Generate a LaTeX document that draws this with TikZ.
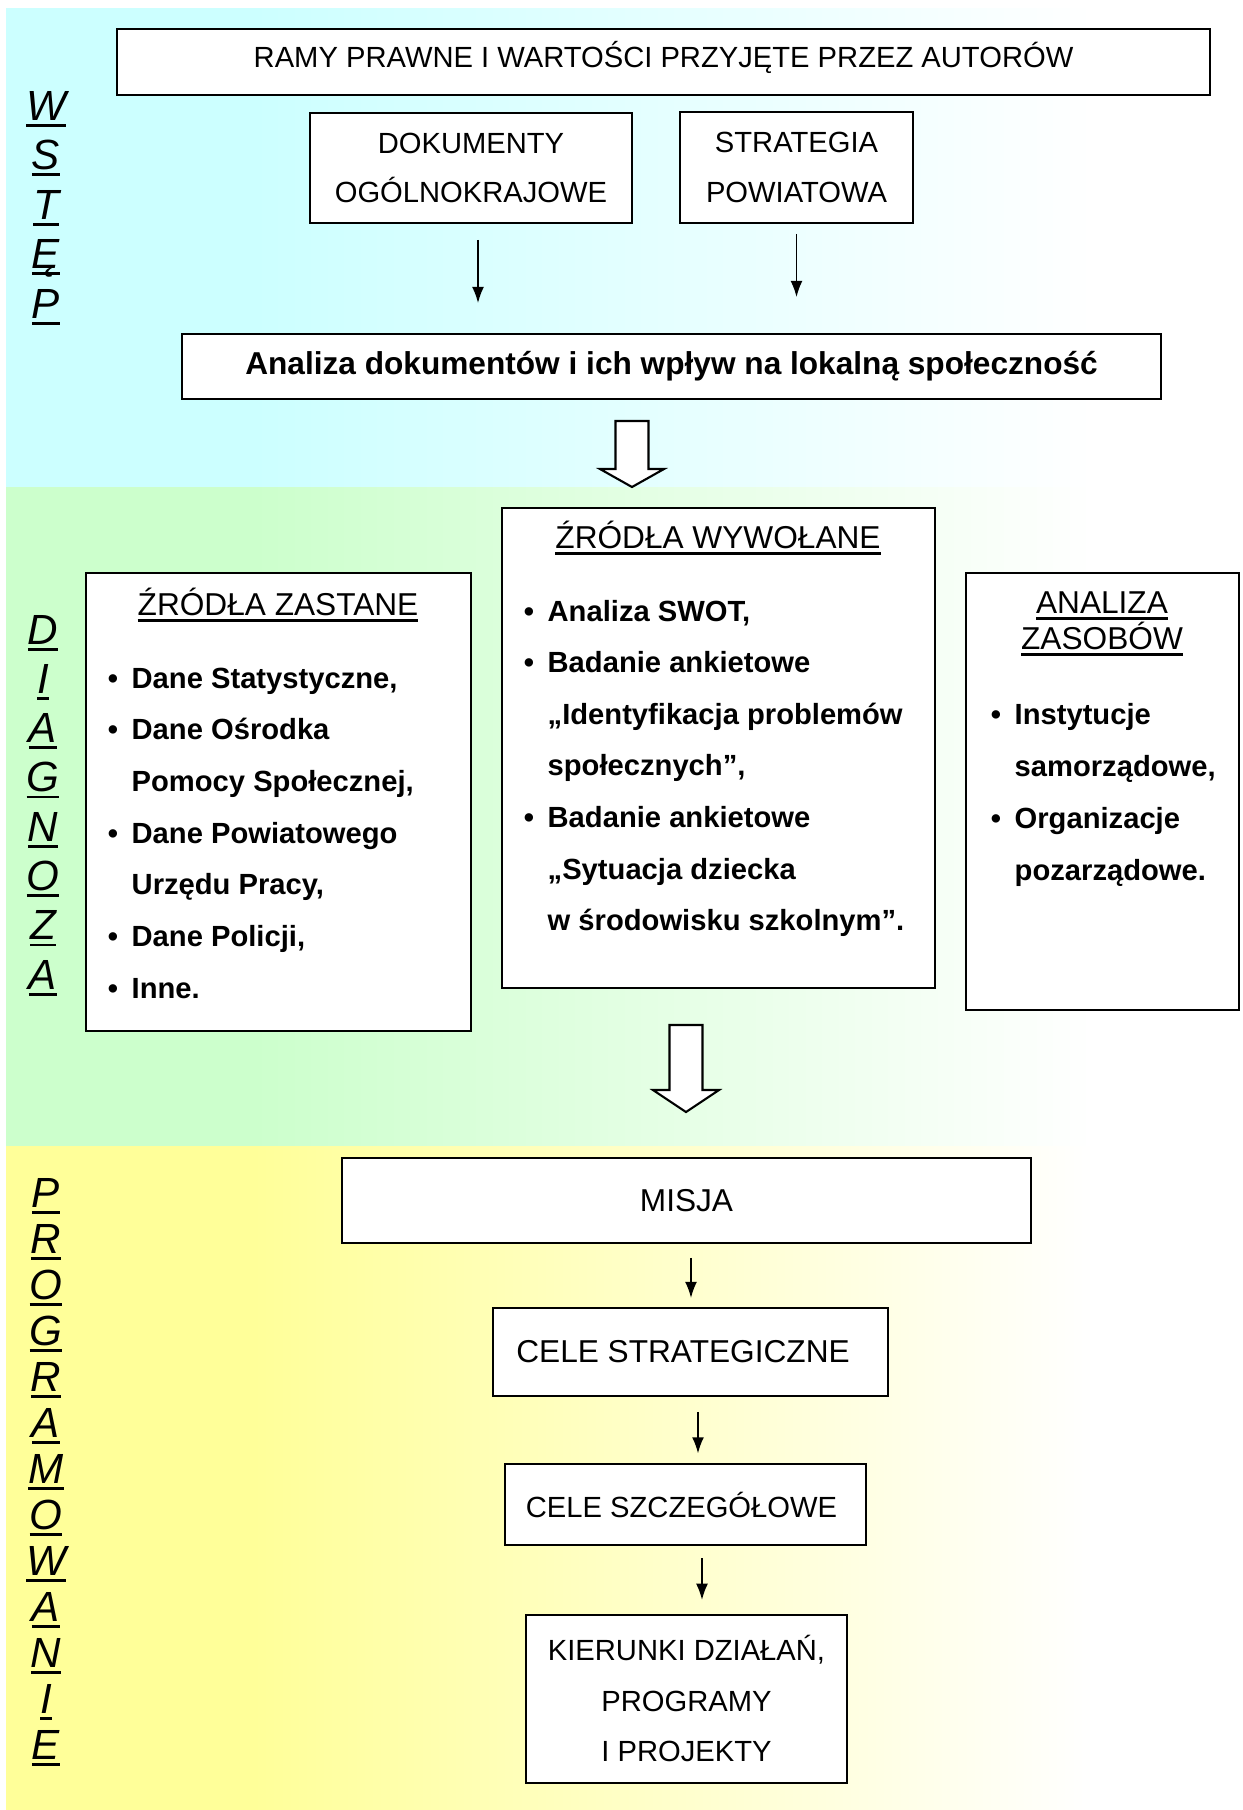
\documentclass[tikz,border=0pt]{standalone}
\usepackage{fontspec}
\setmainfont{Liberation Sans}
\usetikzlibrary{positioning,arrows.meta}
\definecolor{wstep}{HTML}{CCFFFF}
\definecolor{diag}{HTML}{CCFFCC}
\definecolor{prog}{HTML}{FFFF99}
\pgfdeclarehorizontalshading{wstepfade}{100bp}{color(0bp)=(wstep); color(35bp)=(wstep); color(69bp)=(white); color(100bp)=(white)}
\pgfdeclarehorizontalshading{diagfade}{100bp}{color(0bp)=(diag); color(35bp)=(diag); color(69bp)=(white); color(100bp)=(white)}
\pgfdeclarehorizontalshading{progfade}{100bp}{color(0bp)=(prog); color(35bp)=(prog); color(69bp)=(white); color(100bp)=(white)}
\newcommand{\pkt}{\llap{\textbullet\hspace{3.9pt}}}
\newcommand{\podkr}[1]{\setbox0\hbox{#1}\rlap{\rule[-1.85pt]{\wd0}{0.75pt}}\box0}

\begin{document}
\begin{tikzpicture}[x=0.1mm,y=-0.1mm]
	\tikzstyle{box}=[rectangle, draw=black, fill=white, line width=0.55pt, inner sep=0pt, align=center, font=\fontsize{8.3}{14}\selectfont]
	\tikzstyle{bigbox}=[box, font=\fontsize{9}{14}\selectfont]
	\tikzstyle{connect}=[-{Latex[length=4.6pt,width=3.4pt]}, line width=0.45pt]
	\tikzstyle{hollow}=[draw=black, fill=white, line width=0.6pt]
	\tikzstyle{litera}=[anchor=base, inner sep=0pt, font=\fontsize{12}{14}\selectfont\itshape]
	\tikzstyle{tytul}=[anchor=base, inner sep=0pt, align=center, font=\fontsize{9}{10}\selectfont]
	\tikzstyle{item}=[anchor=base west, inner sep=0pt, font=\fontsize{8.3}{14}\selectfont\bfseries]
	\useasboundingbox (0,0) rectangle (1242,1810);
	% tlo
	\shade[shading=wstepfade] (6,8) rectangle (1242,487);
	\shade[shading=diagfade] (6,487) rectangle (1242,1146);
	\shade[shading=progfade] (6,1146) rectangle (1242,1810);
	\foreach \l [count=\i from 0] in {W,S,T,Ę,P}
		\node[litera] (w\i) at (46,120+49.5*\i) {\podkr{\l}};
	\foreach \l [count=\i from 0] in {D,I,A,G,N,O,Z,A}
		\node[litera] (d\i) at (43,644+49.3*\i) {\podkr{\l}};
	\foreach \l [count=\i from 0] in {P,R,O,G,R,A,M,O,W,A,N,I,E}
		\node[litera] (p\i) at (46,1207+46*\i) {\podkr{\l}};

	% wstep
	\node[box, text height=6pt, text depth=2.6pt, minimum width=109.3mm, minimum height=6.6mm] (ramy) at (663.5,62) {RAMY PRAWNE I WARTOŚCI PRZYJĘTE PRZEZ AUTORÓW};
	\node[box, minimum width=32.2mm, minimum height=11mm] (dok) at (471,168) {DOKUMENTY\\OGÓLNOKRAJOWE};
	\node[box, minimum width=23.3mm, minimum height=11.1mm] (strat) at (796.5,167.5) {STRATEGIA\\POWIATOWA};
	\node[box, font=\fontsize{9}{14}\selectfont\bfseries, minimum width=97.9mm, minimum height=6.5mm] (analiza) at (671.5,366.5) {Analiza dokumentów i ich wpływ na lokalną społeczność};
	\path ([xshift=0.7mm]dok.south) edge [connect, shorten <=1.6mm, shorten >=3mm] ([xshift=0.7mm]dok.south |- analiza.north)
		(strat.south) edge [connect, shorten <=1mm, shorten >=3.6mm] (strat.south |- analiza.north);
	\coordinate (strz1) at (615.5,421);
	\draw[hollow] (strz1) -- ++(33,0) -- ++(0,48) -- ++(15.5,0) -- ++(-32,18) -- ++(-32,-18) -- ++(15.5,0) -- cycle;

	% diagnoza
	\node[box, minimum width=38.5mm, minimum height=45.8mm] (zastane) at (278.5,802) {};
	\node[box, minimum width=43.3mm, minimum height=48mm] (wywolane) at (718.5,748) {};
	\node[box, minimum width=27.3mm, minimum height=43.7mm] (zasoby) at (1102.5,791.5) {};
	\node[tytul] (zastaneT) at (278,615) {\podkr{ŹRÓDŁA ZASTANE}};
	\node[tytul] (wywolaneT) at (718,548) {\podkr{ŹRÓDŁA WYWOŁANE}};
	\node[tytul] (zasobyT) at (1102,613) {\podkr{ANALIZA}};
	\node[tytul] (zasobyT2) at (1102,649) {\podkr{ZASOBÓW}};
	\foreach \linia [count=\i from 0] in {{\pkt Dane Statystyczne,}, {\pkt Dane Ośrodka}, {Pomocy Społecznej,}, {\pkt Dane Powiatowego}, {Urzędu Pracy,}, {\pkt Dane Policji,}, {\pkt Inne.}}
		\node[item] (zast\i) at (131,688+51.7*\i) {\linia};
	\foreach \linia [count=\i from 0] in {{\pkt Analiza SWOT,}, {\pkt Badanie ankietowe}, {„Identyfikacja problemów}, {społecznych”,}, {\pkt Badanie ankietowe}, {„Sytuacja dziecka}, {w środowisku szkolnym”.}}
		\node[item] (wyw\i) at (547,621+51.6*\i) {\linia};
	\foreach \linia [count=\i from 0] in {{\pkt Instytucje}, {samorządowe,}, {\pkt Organizacje}, {pozarządowe.}}
		\node[item] (zas\i) at (1014,724+52*\i) {\linia};
	\coordinate (strz2) at (669.5,1025);
	\draw[hollow] (strz2) -- ++(33,0) -- ++(0,65) -- ++(16.5,0) -- ++(-33,22) -- ++(-33,-22) -- ++(16.5,0) -- cycle;

	% programowanie
	\node[bigbox, minimum width=68.9mm, minimum height=8.5mm] (misja) at (686.5,1200.5) {MISJA};
	\node[bigbox, minimum width=39.5mm, minimum height=8.8mm, below=6.3mm of misja, xshift=0.4mm] (cele) {CELE STRATEGICZNE\hspace{1.5mm}};
	\node[box, minimum width=36.1mm, minimum height=8.1mm, below=6.65mm of cele, xshift=-0.5mm] (szczeg) {CELE SZCZEGÓŁOWE\hspace{0.8mm}};
	\node[box, font=\fontsize{8.3}{14.4}\selectfont, minimum width=32.1mm, minimum height=16.8mm, below=6.75mm of szczeg, xshift=0.1mm] (kier) {KIERUNKI DZIAŁAŃ,\\PROGRAMY\\I PROJEKTY};
	\path ([xshift=0.45mm]misja.south) edge [connect, shorten <=1.4mm, shorten >=0.9mm] ([xshift=0.45mm]misja.south |- cele.north)
		([xshift=0.75mm]cele.south) edge [connect, shorten <=1.5mm, shorten >=1mm] ([xshift=0.75mm]cele.south |- szczeg.north)
		([xshift=1.65mm]szczeg.south) edge [connect, shorten <=1.2mm, shorten >=1.4mm] ([xshift=1.65mm]szczeg.south |- kier.north);
\end{tikzpicture}
\end{document}
